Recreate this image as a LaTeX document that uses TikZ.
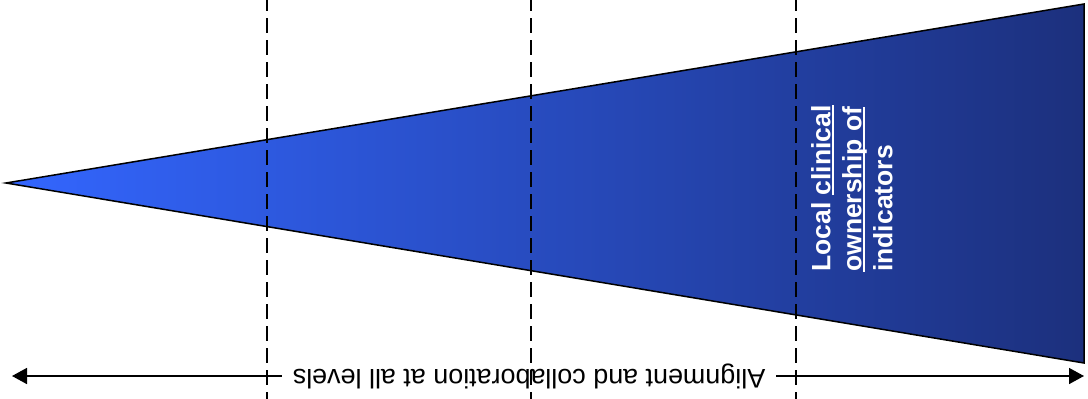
\documentclass[tikz,border=0pt]{standalone}
\usepackage{fontspec}
\setmainfont{Liberation Sans}
\usetikzlibrary{arrows.meta}
\definecolor{wedgelight}{RGB}{51,102,255}
\definecolor{wedgedark}{RGB}{28,48,125}
\newsavebox{\ulbox}
\newcommand{\ulbar}[1]{\sbox{\ulbox}{#1}\rlap{\rule[-4pt]{\wd\ulbox}{2pt}}\usebox{\ulbox}}

\begin{document}
\begin{tikzpicture}[x=1pt, y=-1pt, >={Triangle[length=15pt,width=16pt]},
	divider/.style={black, line width=1.8pt, dash pattern=on 15pt off 7pt},
	span/.style={font=\fontsize{26.9}{32}\selectfont, rotate=180, inner xsep=11pt, inner ysep=0pt},
	owner/.style={font=\bfseries\fontsize{26.5}{31}\selectfont, text=white, rotate=90, align=left, anchor=north west, inner sep=0pt}]
	\useasboundingbox (0,0) rectangle (1088,399);
	\shade[left color=wedgelight, right color=wedgedark] (6,183) -- (1084,4) -- (1084,363) -- cycle;
	\draw[line width=1.5pt] (6,183) -- (1084,4) -- (1084,363) -- cycle;
	\node[owner] (own) at (811,272) {Local \ulbar{clinical}\\ \ulbar{ownership of}\\ indicators};
	\node[span] (align) at (529,376) {Alignment and collaboration at all levels};
	\coordinate (tipL) at (12,376);
	\coordinate (tipR) at (1084,376);
	\draw[->, line width=1.6pt] (align.east) -- (tipL);
	\draw[->, line width=1.6pt] (align.west) -- (tipR);
	\foreach \x in {267,531,796}
		\draw[divider] (\x,-4) -- (\x,399);
\end{tikzpicture}
\end{document}
